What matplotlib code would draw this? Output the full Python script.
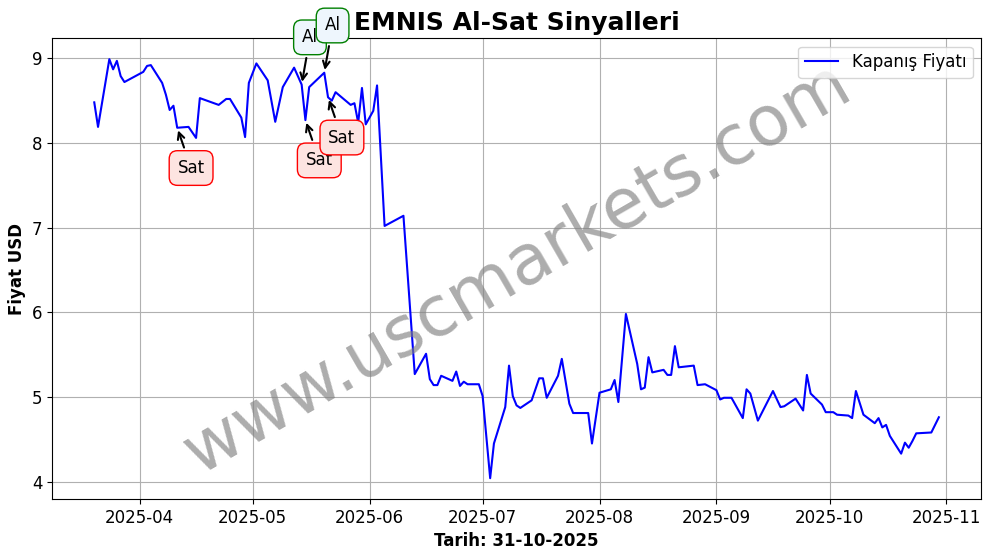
import pandas as pd
import matplotlib
matplotlib.use('Agg')
import matplotlib.pyplot as plt
import matplotlib.dates as mdates

# ------------------- DADOS -------------------
dates = [
    '2025-03-20', '2025-03-21', '2025-03-24', '2025-03-25', '2025-03-26', '2025-03-27', '2025-03-28',
    '2025-04-02', '2025-04-03', '2025-04-04', '2025-04-07', '2025-04-08', '2025-04-09', '2025-04-10',
    '2025-04-11', '2025-04-14', '2025-04-16', '2025-04-17', '2025-04-22', '2025-04-24', '2025-04-25',
    '2025-04-28', '2025-04-29', '2025-04-30', '2025-05-02', '2025-05-05', '2025-05-07', '2025-05-09',
    '2025-05-12', '2025-05-14', '2025-05-15', '2025-05-16', '2025-05-20', '2025-05-21', '2025-05-22',
    '2025-05-23', '2025-05-27', '2025-05-28', '2025-05-29', '2025-05-30', '2025-05-31', '2025-06-02',
    '2025-06-03', '2025-06-05', '2025-06-10', '2025-06-13', '2025-06-16', '2025-06-17', '2025-06-18',
    '2025-06-19', '2025-06-20', '2025-06-23', '2025-06-24', '2025-06-25', '2025-06-26', '2025-06-27',
    '2025-06-30', '2025-07-01', '2025-07-03', '2025-07-04', '2025-07-07', '2025-07-08', '2025-07-09',
    '2025-07-10', '2025-07-11', '2025-07-14', '2025-07-16', '2025-07-17', '2025-07-18', '2025-07-21',
    '2025-07-22', '2025-07-24', '2025-07-25', '2025-07-29', '2025-07-30', '2025-08-01', '2025-08-04',
    '2025-08-05', '2025-08-06', '2025-08-08', '2025-08-11', '2025-08-12', '2025-08-13', '2025-08-14',
    '2025-08-15', '2025-08-18', '2025-08-19', '2025-08-20', '2025-08-21', '2025-08-22', '2025-08-26',
    '2025-08-27', '2025-08-29', '2025-09-01', '2025-09-02', '2025-09-03', '2025-09-05', '2025-09-08',
    '2025-09-09', '2025-09-10', '2025-09-12', '2025-09-16', '2025-09-18', '2025-09-19', '2025-09-22',
    '2025-09-24', '2025-09-25', '2025-09-26', '2025-09-29', '2025-09-30', '2025-10-02', '2025-10-03',
    '2025-10-06', '2025-10-07', '2025-10-08', '2025-10-10', '2025-10-13', '2025-10-14', '2025-10-15',
    '2025-10-16', '2025-10-17', '2025-10-20', '2025-10-21', '2025-10-22', '2025-10-23', '2025-10-24',
    '2025-10-28', '2025-10-30',
]
prices = [
    8.48, 8.19, 8.99, 8.87, 8.97, 8.79, 8.72,
    8.84, 8.91, 8.92, 8.71, 8.57, 8.39, 8.44,
    8.18, 8.19, 8.06, 8.53, 8.45, 8.52, 8.52,
    8.30, 8.07, 8.71, 8.94, 8.74, 8.25, 8.66,
    8.89, 8.69, 8.27, 8.66, 8.83, 8.54, 8.50,
    8.60, 8.45, 8.47, 8.24, 8.65, 8.22, 8.38,
    8.68, 7.02, 7.14, 5.27, 5.51, 5.21, 5.14,
    5.14, 5.25, 5.19, 5.30, 5.13, 5.18, 5.15,
    5.15, 5.01, 4.04, 4.45, 4.88, 5.37, 5.01,
    4.90, 4.87, 4.96, 5.22, 5.22, 4.99, 5.25,
    5.45, 4.92, 4.81, 4.81, 4.45, 5.05, 5.09,
    5.20, 4.94, 5.98, 5.39, 5.09, 5.11, 5.47,
    5.29, 5.32, 5.26, 5.26, 5.60, 5.35, 5.37,
    5.14, 5.15, 5.08, 4.97, 4.99, 4.99, 4.75,
    5.09, 5.04, 4.72, 5.07, 4.88, 4.89, 4.98,
    4.84, 5.26, 5.04, 4.91, 4.82, 4.82, 4.79,
    4.78, 4.75, 5.07, 4.79, 4.69, 4.75, 4.64,
    4.67, 4.54, 4.33, 4.46, 4.40, 4.48, 4.57,
    4.58, 4.76,
]

# sinais de compra / venda
buy_dates = ['2025-05-14', '2025-05-20']
sell_dates = ['2025-04-11', '2025-05-15', '2025-05-21']

df = pd.DataFrame({'date': pd.to_datetime(dates), 'close': prices}).set_index('date')

# ------------------- GRAFICO -------------------
fig, ax = plt.subplots(figsize=(9.91, 5.54), dpi=100)
fig.subplots_adjust(left=0.0525, right=0.99, top=0.931, bottom=0.099)
ax.plot(df.index, df['close'], color='blue', label='Kapanış Fiyatı')

for d in buy_dates:
    d = pd.Timestamp(d)
    ax.annotate('Al', xy=(d, df.loc[d, 'close']), xytext=(6, 34), textcoords='offset points',
                ha='center', va='center', fontsize=12,
                arrowprops=dict(arrowstyle='->', color='black', lw=1.5),
                bbox=dict(boxstyle='round,pad=0.5', fc='#eef6fd', ec='green'))

for d in sell_dates:
    d = pd.Timestamp(d)
    ax.annotate('Sat', xy=(d, df.loc[d, 'close']), xytext=(10, -29), textcoords='offset points',
                ha='center', va='center', fontsize=12,
                arrowprops=dict(arrowstyle='->', color='black', lw=1.5),
                bbox=dict(boxstyle='round,pad=0.5', fc='#fde4e1', ec='red'))

ax.text(0.5, 0.5, 'www.uscmarkets.com', transform=ax.transAxes, fontsize=50, color='gray',
        alpha=0.65, rotation=30, ha='center', va='center')

ax.set_title('EMNIS Al-Sat Sinyalleri', fontsize=18, fontweight='bold')
ax.set_xlabel('Tarih: 31-10-2025', fontsize=12, fontweight='bold')
ax.set_ylabel('Fiyat USD', fontsize=12, fontweight='bold')
ax.xaxis.set_major_locator(mdates.MonthLocator())
ax.xaxis.set_major_formatter(mdates.DateFormatter('%Y-%m'))
ax.tick_params(labelsize=12)
ax.grid(True)
ax.legend(loc='upper right', fontsize=12)

plt.savefig('out.png')
